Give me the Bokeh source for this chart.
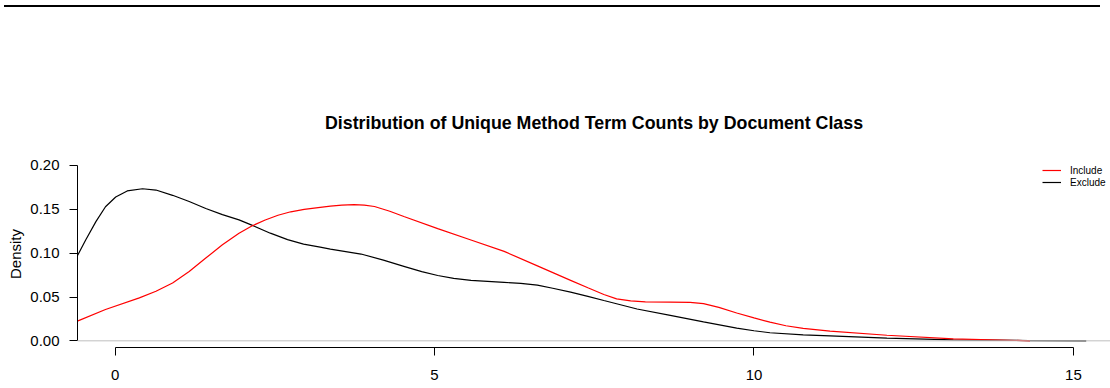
from bokeh.plotting import figure
from bokeh.models import (Range1d, FixedTicker, PrintfTickFormatter, Span, Legend,
                          LegendItem, Div)
from bokeh.layouts import column
from bokeh.embed import file_html
from bokeh.resources import INLINE

# ---- data ----
exclude_x = [-0.59, -0.46, -0.30, -0.15, 0.01, 0.19, 0.43, 0.64, 0.90, 1.16, 1.42, 1.68,
             1.94, 2.14, 2.43, 2.70, 2.95, 3.21, 3.37, 3.85, 4.20, 4.52, 4.80, 5.05, 5.30,
             5.57, 6.09, 6.35, 6.61, 6.85, 7.13, 7.40, 7.65, 8.17, 8.69, 9.21, 9.73, 10.00,
             10.25, 10.77, 11.19, 12.08, 13.12, 14.30, 15.20]
exclude_d = [0.097, 0.115, 0.136, 0.153, 0.164, 0.171, 0.1735, 0.172, 0.166, 0.159, 0.151,
             0.144, 0.138, 0.132, 0.1228, 0.1155, 0.1103, 0.1068, 0.1047, 0.099, 0.092,
             0.085, 0.079, 0.0745, 0.0712, 0.069, 0.0667, 0.0655, 0.0635, 0.0600, 0.0555,
             0.0508, 0.046, 0.0363, 0.029, 0.0216, 0.0145, 0.0115, 0.0092, 0.0068, 0.0057,
             0.003, 0.0012, 0.0003, 0.0]

include_x = [-0.59, -0.15, 0.38, 0.64, 0.90, 1.16, 1.42, 1.68, 1.94, 2.14, 2.35, 2.55,
             2.75, 2.96, 3.21, 3.37, 3.55, 3.74, 3.90, 4.06, 4.30, 4.52, 5.05, 5.57, 6.09,
             6.61, 7.13, 7.40, 7.65, 7.85, 8.07, 8.30, 8.69, 9.00, 9.21, 9.45, 9.73, 10.00,
             10.25, 10.50, 10.77, 11.19, 12.08, 13.12, 14.32]
include_d = [0.0225, 0.0358, 0.049, 0.0565, 0.066, 0.079, 0.0944, 0.1095, 0.1228, 0.131,
             0.1378, 0.1432, 0.1472, 0.150, 0.1523, 0.1536, 0.1547, 0.1553, 0.1548, 0.1532,
             0.1478, 0.1418, 0.128, 0.115, 0.102, 0.0855, 0.069, 0.0605, 0.0528, 0.0478,
             0.0455, 0.0445, 0.0442, 0.0438, 0.0425, 0.0382, 0.0318, 0.0262, 0.0213, 0.0172,
             0.0142, 0.011, 0.0064, 0.0023, 0.0]

x_ticks = [0, 5, 10, 15]
y_ticks = [0.0, 0.05, 0.10, 0.15, 0.20]
series_names = ["Include", "Exclude"]
series_colors = ["#FF0000", "#000000"]

FONT = "Liberation Sans"

p = figure(width=1110, height=381, output_backend="svg", toolbar_location=None,
           x_range=Range1d(-0.588, 15.58), y_range=Range1d(-0.0076, 0.2057),
           min_border_left=77, min_border_right=0, min_border_top=153,
           min_border_bottom=41)
p.outline_line_color = None
p.grid.visible = False

p.title.text = "Distribution of Unique Method Term Counts by Document Class"
p.title.align = "center"
p.title.text_font = FONT
p.title.text_font_size = "17.8px"
p.title.text_font_style = "bold"
p.title.text_color = "black"
p.title.standoff = 55
p.title.offset = 3

# zero line
p.add_layout(Span(location=0, dimension="width", line_color="#BEBEBE", line_width=1))

r_ex = p.line(exclude_x, exclude_d, line_color=series_colors[1], line_width=1.2)
r_in = p.line(include_x, include_d, line_color=series_colors[0], line_width=1.2)

# axes
for ax in (p.xaxis[0], p.yaxis[0]):
    ax.axis_line_color = "black"
    ax.major_tick_line_color = "black"
    ax.major_tick_out = 8
    ax.major_tick_in = 0
    ax.minor_tick_out = 0
    ax.minor_tick_in = 0
    ax.major_label_text_font = FONT
    ax.major_label_text_font_size = "15px"
    ax.major_label_text_color = "black"

p.xaxis.ticker = FixedTicker(ticks=x_ticks)
p.xaxis.bounds = (x_ticks[0], x_ticks[-1])
p.xaxis.major_label_standoff = 14

p.yaxis.ticker = FixedTicker(ticks=y_ticks)
p.yaxis.formatter = PrintfTickFormatter(format="%.2f")
p.yaxis.bounds = (y_ticks[0], y_ticks[-1])
p.yaxis.major_label_standoff = 10
p.yaxis.axis_label = "Density"
p.yaxis.axis_label_text_font = FONT
p.yaxis.axis_label_text_font_size = "15px"
p.yaxis.axis_label_text_font_style = "normal"
p.yaxis.axis_label_text_color = "black"
p.yaxis.axis_label_standoff = 3

legend = Legend(items=[LegendItem(label=series_names[0], renderers=[r_in]),
                       LegendItem(label=series_names[1], renderers=[r_ex])],
                location=(965, 159), orientation="vertical")
legend.label_text_font = FONT
legend.label_text_font_size = "10px"
legend.label_text_color = "black"
legend.label_height = 12
legend.glyph_height = 12
legend.glyph_width = 19
legend.label_standoff = 9
legend.spacing = 0
legend.padding = 0
legend.margin = 0
legend.border_line_color = None
legend.background_fill_alpha = 0
p.add_layout(legend)

top_rule = Div(width=1096, height=2, margin=(5, 0, 0, 4),
               styles={"background-color": "#000000"})

layout = column(top_rule, p, spacing=0)

open("out.html", "w").write(file_html(layout, INLINE))
